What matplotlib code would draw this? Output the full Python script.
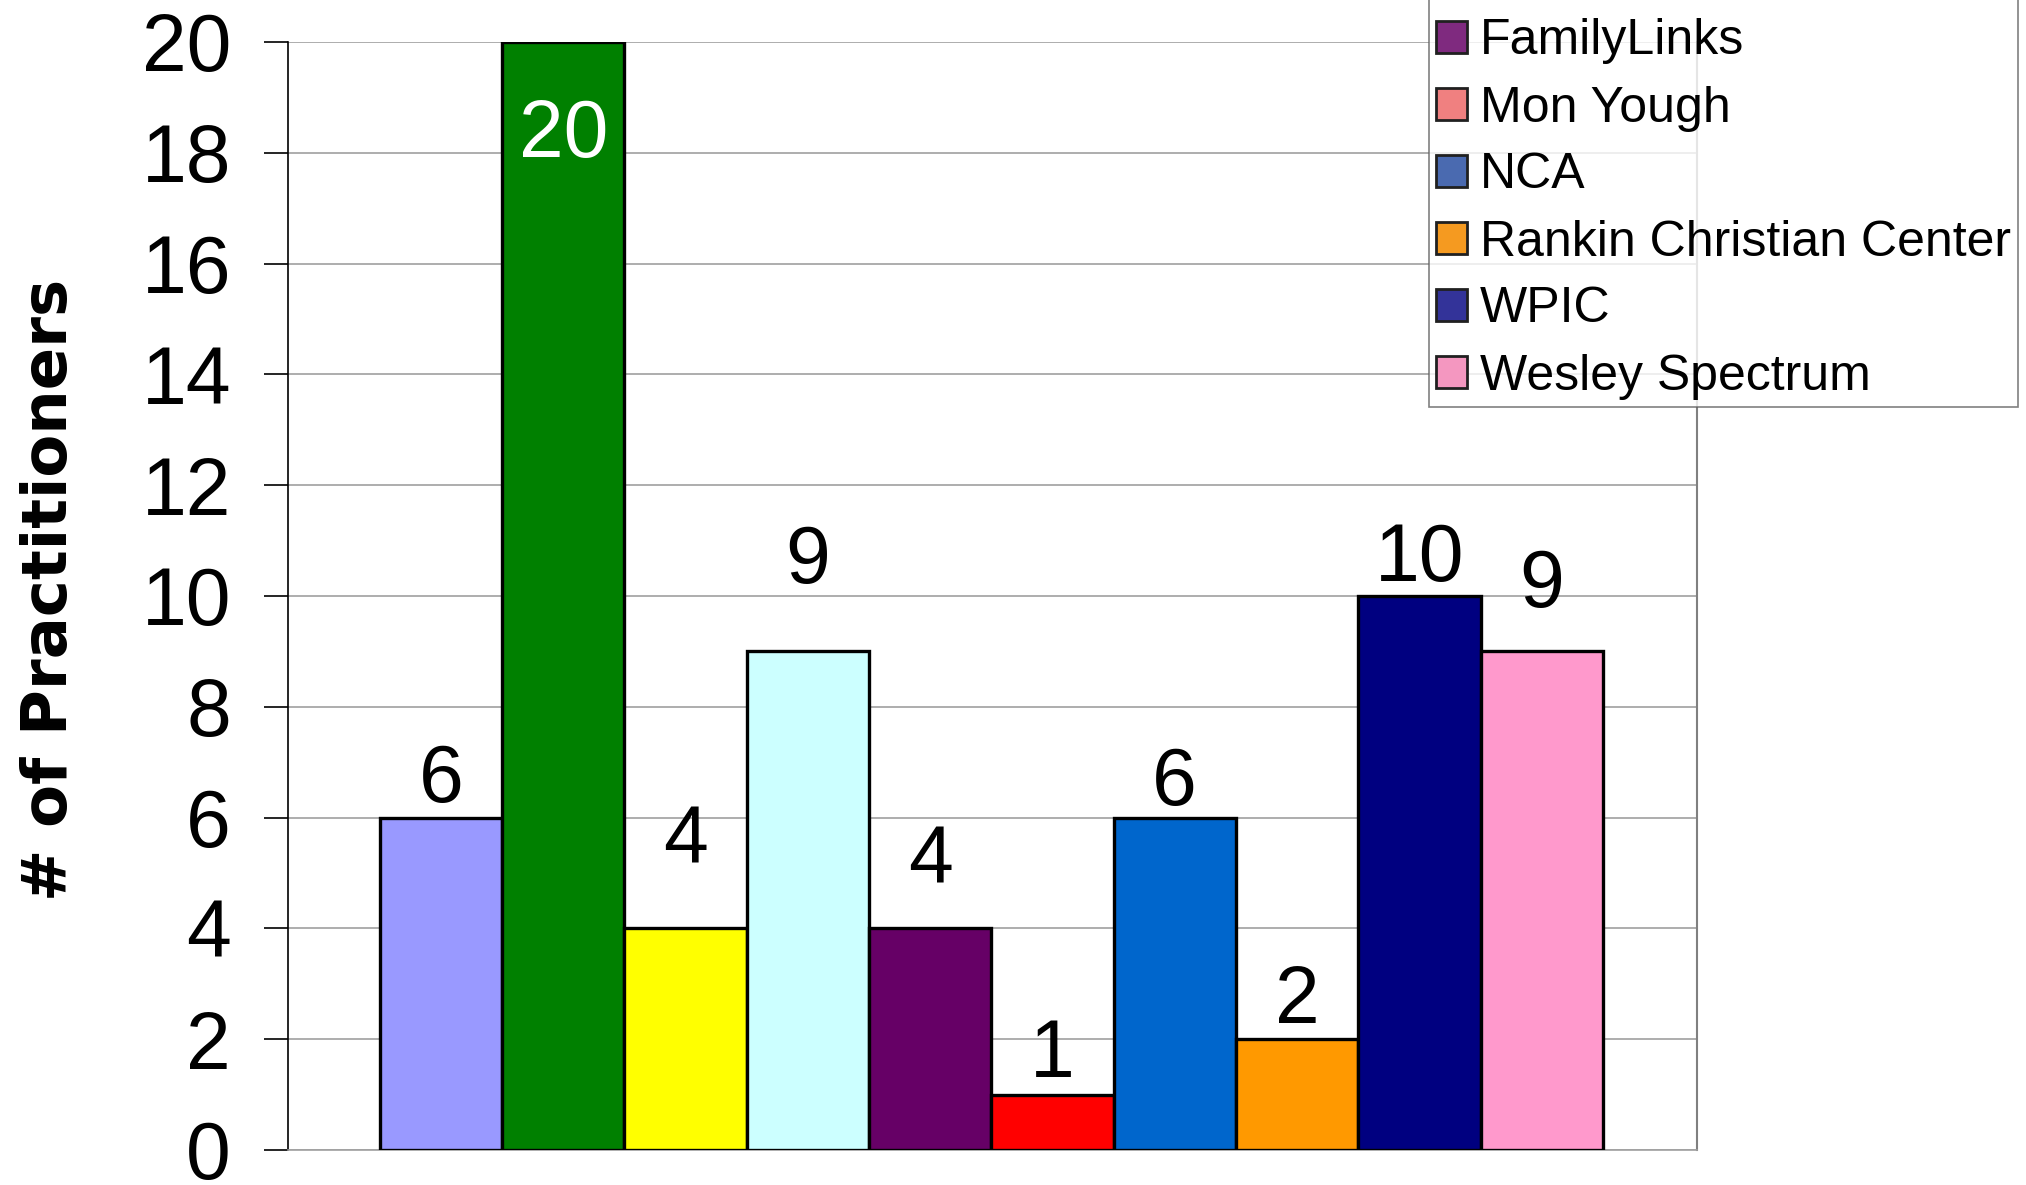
import numpy as np
import matplotlib
matplotlib.use("Agg")
import matplotlib.pyplot as plt
from matplotlib.patches import Patch

plt.rcParams['font.family'] = ['Liberation Sans', 'DejaVu Sans']

# agencies (first four sit above the visible part of the legend)
agencies = ["Bradley Center", "CCBH", "Children's Institute", "Every Child",
            "FamilyLinks", "Mon Yough", "NCA", "Rankin Christian Center",
            "WPIC", "Wesley Spectrum"]
practitioners = [6, 20, 4, 9, 4, 1, 6, 2, 10, 9]

bar_colors = ["#9999FF", "#008000", "#FFFF00", "#CCFFFF", "#660066",
              "#FF0000", "#0066CC", "#FF9900", "#000080", "#FF99CC"]
legend_colors = ["#9999FF", "#008000", "#FFFF00", "#CCFFFF", "#7F2A7F",
                 "#F08080", "#4A6AB0", "#F59A20", "#333399", "#F497C0"]

# label gap above each bar, in points (Excel nudged a few upward)
label_gap = [11, -40, 47, 49, 32, 13, 9, 12, 11, 32]

fig = plt.figure(figsize=(20.26, 11.85), dpi=100)
ax = fig.add_axes([288/2026, 1 - 1150/1185, (1697 - 288)/2026, (1150 - 42)/1185])

x = np.arange(len(practitioners))
bars = ax.bar(x, practitioners, width=1.0, color=bar_colors,
              edgecolor='black', linewidth=2.4, zorder=3)

for xi, v, g in zip(x, practitioners, label_gap):
    if g < 0:
        ax.annotate(str(v), (xi, v), xytext=(0, g), textcoords='offset points',
                    ha='center', va='top', fontsize=58, color='white', zorder=4)
    else:
        ax.annotate(str(v), (xi, v), xytext=(0, g), textcoords='offset points',
                    ha='center', va='baseline', fontsize=58, color='black', zorder=4)

ax.set_xlim(-1.25, 10.27)
ax.set_ylim(0, 20)
ax.set_yticks(np.arange(0, 21, 2))
ax.set_xticks([])
ax.yaxis.grid(True, color='#A0A0A0', linewidth=1.2, zorder=0)
ax.tick_params(axis='y', labelsize=58, length=17, width=1.2, pad=24, direction='out')

ax.spines['top'].set_visible(False)
ax.spines['left'].set_color('black')
ax.spines['left'].set_linewidth(1.2)
ax.spines['bottom'].set_color('#A0A0A0')
ax.spines['bottom'].set_linewidth(1.2)
ax.spines['right'].set_color('#808080')
ax.spines['right'].set_linewidth(1.5)

fig.text(50/2026, 1 - 590/1185, "# of Practitioners", rotation=90,
         ha='center', va='center', fontsize=45, fontweight='bold',
         family=['DejaVu Sans'])

handles = [Patch(facecolor=c, edgecolor='#202020', linewidth=2) for c in legend_colors]
leg = fig.legend(handles, agencies, loc='lower right',
                 bbox_to_anchor=(2018/2026, 1 - 407/1185),
                 fontsize=36, frameon=True, fancybox=False,
                 handlelength=0.62, handleheight=0.62, handletextpad=0.25,
                 labelspacing=0.42, borderpad=0.15, borderaxespad=0)
leg.get_frame().set_edgecolor('#606060')
leg.get_frame().set_linewidth(1.2)

fig.savefig("out.png", dpi=100)
